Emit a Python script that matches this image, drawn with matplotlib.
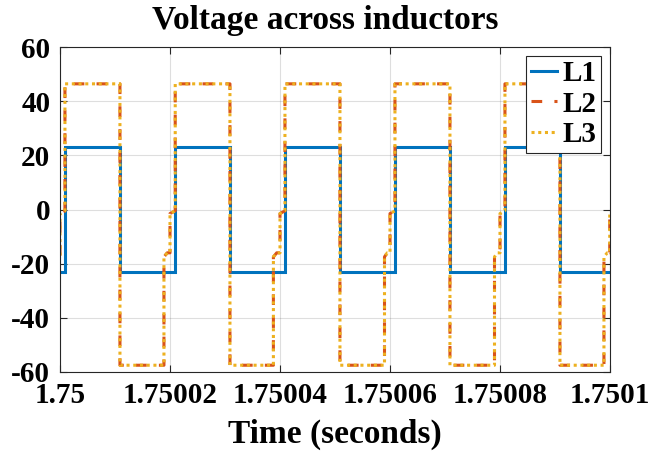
import matplotlib
matplotlib.use("Agg")
import matplotlib.pyplot as plt
from matplotlib.ticker import FixedLocator, FixedFormatter

# ---- data (time offsets in microseconds after t0, voltages in V) ----
t0 = 1.75
l1_t_us = [0, 0.9, 0.9, 10.9, 10.9, 20.95, 20.95, 30.9, 30.9, 40.9, 40.9,
           50.9, 50.9, 60.9, 60.9, 70.9, 70.9, 80.9, 80.9, 90.9, 90.9, 100]
l1_v = [-23, -23, 23, 23, -23, -23, 23, 23, -23, -23, 23,
        23, -23, -23, 23, 23, -23, -23, 23, 23, -23, -23]

l2_t_us = [0, 0, 0.9, 0.9, 10.9, 10.9, 18.9, 18.9, 19.5, 20.0, 20.0, 20.95, 20.95,
           30.9, 30.9, 38.8, 38.8, 39.4, 40.0, 40.0, 40.9, 40.9,
           50.9, 50.9, 59.0, 59.0, 59.5, 60.0, 60.0, 60.9, 60.9,
           70.9, 70.9, 79.0, 79.0, 79.5, 80.0, 80.0, 80.9, 80.9,
           90.9, 90.9, 98.9, 98.9, 99.5, 99.95, 99.95, 100]
l2_v = [-17, -1.5, -0.5, 46.4, 46.4, -57.5, -57.5, -17.5, -16, -16, -1.5, -0.5, 46.4,
        46.4, -57.5, -57.5, -17.5, -16, -16, -1.5, -0.5, 46.4,
        46.4, -57.5, -57.5, -17.5, -16, -16, -1.5, -0.5, 46.4,
        46.4, -57.5, -57.5, -17.5, -16, -16, -1.5, -0.5, 46.4,
        46.4, -57.5, -57.5, -17.5, -16, -16, -1.5, -1.3]

l3_t_us = l2_t_us
l3_v = l2_v

x_ticks = [1.75, 1.75002, 1.75004, 1.75006, 1.75008, 1.7501]
x_tick_labels = ["1.75", "1.75002", "1.75004", "1.75006", "1.75008", "1.7501"]
y_ticks = [-60, -40, -20, 0, 20, 40, 60]
y_tick_labels = ["-60", "-40", "-20", "0", "20", "40", "60"]

series_names = ["L1", "L2", "L3"]
title = "Voltage across inductors"
xlabel = "Time (seconds)"

# ---- style ----
plt.rcParams['font.family'] = ['Liberation Serif', 'DejaVu Serif']
plt.rcParams['font.weight'] = 'bold'

fig = plt.figure(figsize=(6.51, 4.51), dpi=100)
ax = fig.add_axes([60 / 651, 1 - 372 / 451, 550 / 651, (372 - 47) / 451])

def to_t(us):
    return [t0 + u * 1e-6 for u in us]

ax.plot(to_t(l1_t_us), l1_v, color=(0.0, 0.447, 0.741), lw=2.2, label=series_names[0],
        solid_joinstyle='miter')
ax.plot(to_t(l2_t_us), l2_v, color=(0.850, 0.325, 0.098), lw=2.2, ls=(0, (3.5, 4.0)),
        label=series_names[1])
ax.plot(to_t(l3_t_us), l3_v, color=(0.929, 0.694, 0.125), lw=2.2, ls=(0, (1, 1.2)),
        label=series_names[2])

ax.set_xlim(1.75, 1.7501)
ax.set_ylim(-60, 60)
ax.xaxis.set_major_locator(FixedLocator(x_ticks))
ax.xaxis.set_major_formatter(FixedFormatter(x_tick_labels))
ax.yaxis.set_major_locator(FixedLocator(y_ticks))
ax.yaxis.set_major_formatter(FixedFormatter(y_tick_labels))

ax.grid(True, color=(0.15, 0.15, 0.15), alpha=0.15, lw=0.8)
ax.tick_params(axis='both', direction='in', length=5, width=0.8, colors=(0.15, 0.15, 0.15),
               top=True, right=True, labelsize=21, labelcolor='black')
ax.tick_params(axis='x', pad=7)
ax.tick_params(axis='y', pad=7)
for lab in ax.get_xticklabels() + ax.get_yticklabels():
    lab.set_fontweight('bold')
for sp in ax.spines.values():
    sp.set_color((0.15, 0.15, 0.15))
    sp.set_linewidth(0.8)

ax.set_title(title, fontsize=24, fontweight='bold', pad=13, x=0.483)
ax.set_xlabel(xlabel, fontsize=24, fontweight='bold', labelpad=7)

leg = ax.legend(loc='upper right', prop={'weight': 'bold', 'size': 21},
                handlelength=0.9, handletextpad=0.2, labelspacing=0.12,
                borderpad=0.15, borderaxespad=0.3, fancybox=False, framealpha=1,
                edgecolor=(0.15, 0.15, 0.15))
leg.get_frame().set_linewidth(0.8)

fig.savefig("out.png", dpi=100)
